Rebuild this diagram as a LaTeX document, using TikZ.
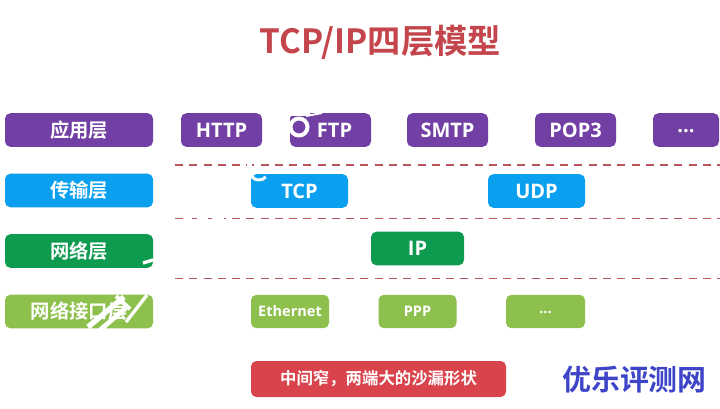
\documentclass[tikz,border=0pt]{standalone}
\usepackage{fontspec}
\setmainfont{Open Sans}
\newfontfamily\cjk{Noto Sans CJK SC}[BoldFont={* Bold}]
\definecolor{cpurple}{HTML}{7240A4}
\definecolor{cblue}{HTML}{0BA0EF}
\definecolor{cgreen}{HTML}{0E9B4F}
\definecolor{clight}{HTML}{8DC04C}
\definecolor{cred}{HTML}{D9444C}
\definecolor{ctitle}{HTML}{C4454B}
\definecolor{cdash}{HTML}{B8545C}
\definecolor{cmark}{HTML}{3E45C8}
\tikzset{
  x=0.75pt,y=-0.75pt,
  boxbase/.style={rounded corners=4pt,text=white,inner sep=0pt,font=\cjk\bfseries},
  bigbox/.style={boxbase,minimum height=25.2pt,font=\fontsize{15}{17}\bfseries\selectfont},
  cjkbox/.style={boxbase,minimum width=111pt,minimum height=25.2pt,font=\cjk\fontsize{14.5}{16}\bfseries\selectfont},
  smallbox/.style={boxbase,minimum height=25pt,minimum width=58.5pt,font=\fontsize{10.9}{13}\bfseries\selectfont},
  sep/.style={cdash,line width=1.3pt,dash pattern=on 6pt off 4.7pt},
  wm/.style={white}
}
\begin{document}
\begin{tikzpicture}
\useasboundingbox (0,0) rectangle (720,408);
\node[font=\cjk\fontsize{25}{28}\bfseries\selectfont,text=ctitle,inner sep=0pt] (title) at (380.5,42) {TCP/IP四层模型};

\node[cjkbox,fill=cpurple] (app) at (79,130) {应用层};
\node[bigbox,fill=cpurple,minimum width=60.75pt] (http) at (221.5,130) {HTTP};
\node[bigbox,fill=cpurple,minimum width=60.75pt] (ftp) at (330.5,130) {\hspace*{6pt}FTP};
\node[bigbox,fill=cpurple,minimum width=60.75pt] (smtp) at (447.5,130) {SMTP};
\node[bigbox,fill=cpurple,minimum width=60.75pt] (pop) at (575.5,130) {POP3};
\node[bigbox,fill=cpurple,minimum width=49.5pt] (more) at (686,130) {\raisebox{-3.5pt}{...}};

\node[cjkbox,fill=cblue] (trans) at (79,190.5) {传输层};
\node[bigbox,fill=cblue,minimum width=72.75pt] (tcp) at (299.5,191) {TCP};
\node[bigbox,fill=cblue,minimum width=72.75pt] (udp) at (536.5,191) {UDP};

\node[cjkbox,fill=cgreen] (net) at (79,251) {网络层};
\node[bigbox,fill=cgreen,minimum width=69.75pt] (ip) at (417.5,248.5) {IP};

\node[cjkbox,fill=clight] (link) at (79,311.5) {网络接口层};
\node[smallbox,fill=clight] (eth) at (290,311.5) {Ethernet};
\node[smallbox,fill=clight] (ppp) at (417.5,311.5) {PPP};
\node[smallbox,fill=clight,minimum width=59.25pt] (dots) at (545.5,311.5) {\raisebox{-2.5pt}{...}};

\node[boxbase,fill=cred,minimum width=191.25pt,minimum height=27pt,font=\cjk\fontsize{12.3}{14}\bfseries\selectfont] (note) at (378.5,379) {中间窄，两端大的沙漏形状};

\coordinate (a1) at (175,165); \coordinate (a2) at (720,165);
\coordinate (b1) at (175,218.5); \coordinate (b2) at (720,218.5);
\coordinate (c1) at (175,278.5); \coordinate (c2) at (720,278.5);
\draw[sep] (a1) -- (a2);
\draw[sep] (b1) -- (b2);
\draw[sep] (c1) -- (c2);

\node[font=\cjk\fontsize{21.7}{25}\bfseries\selectfont,text=cmark,inner sep=0pt] (mark) at (634.5,380) {优乐评测网};

% white watermark remnants over the boxes
\fill[wm] (289,112) rectangle (310,115.5);
\draw[wm,line width=3pt] (299,127) circle (8.5);
\draw[wm,line width=1.5pt] (306,116) -- (322,113);
\draw[wm,line width=2.2pt] (252,175) arc (180:20:7 and 5);
\draw[wm,line width=2.5pt] (186,218.5) -- (192,218.5);
\draw[wm,line width=2.5pt] (197,218.5) -- (208,218.5);
\draw[wm,line width=2.5pt] (212,218.5) -- (224,218.5);
\draw[wm,line width=2.5pt] (247,165) -- (252,165);
\draw[wm,line width=4pt] (88,327) -- (124,297);
\draw[wm,line width=3.5pt] (100,330) -- (127,307);
\draw[wm,line width=3pt] (116,296) -- (130,309);
\draw[wm,line width=2.5pt] (126,322) -- (147,295);
\draw[wm,line width=2.5pt] (143,263) -- (153,260);
\end{tikzpicture}
\end{document}
